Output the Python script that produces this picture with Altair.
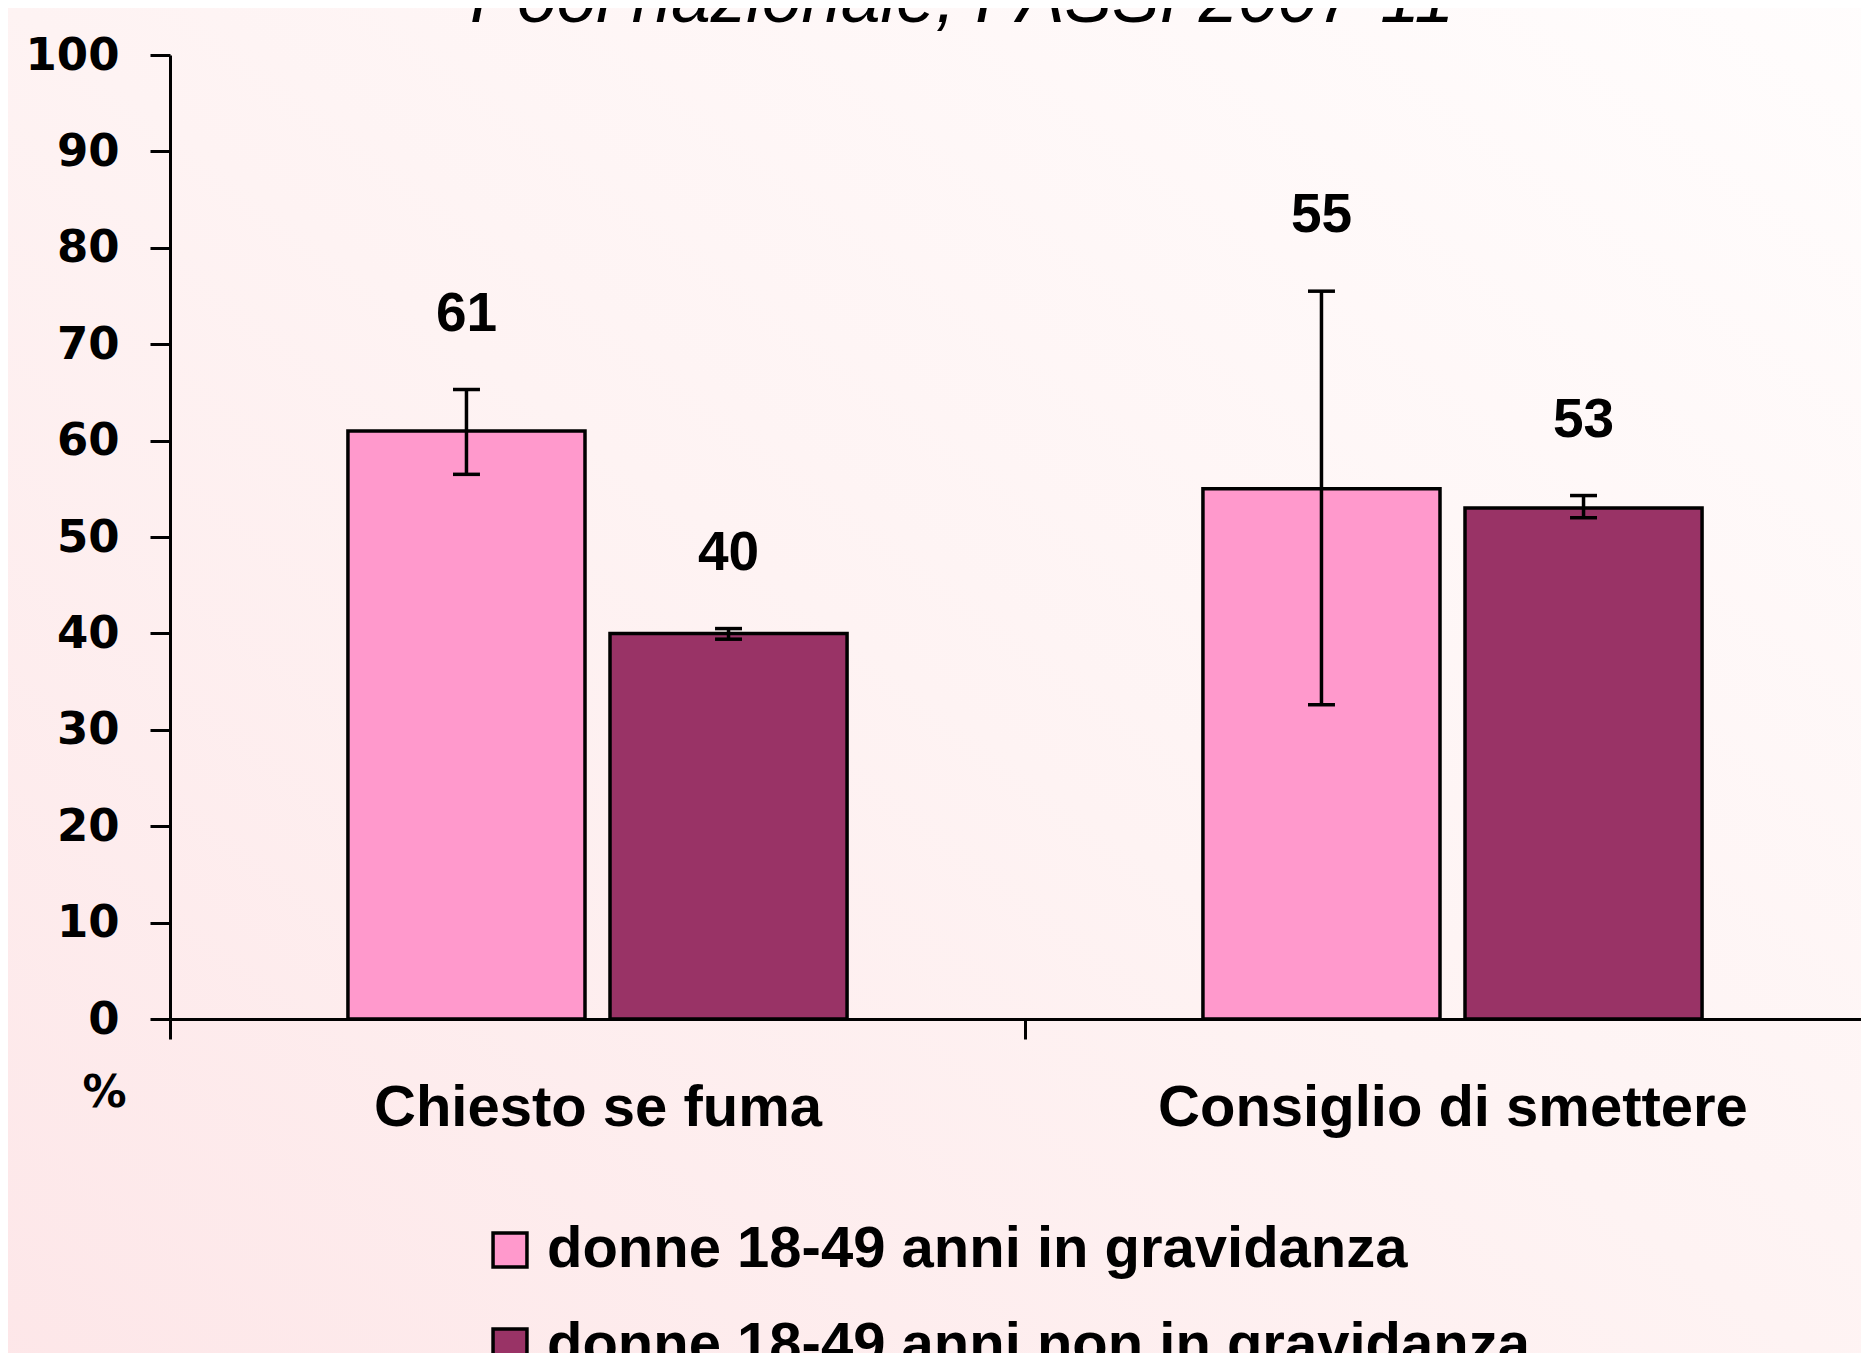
import altair as alt
import pandas as pd

# ---- data ----
categories = ["Chiesto se fuma", "Consiglio di smettere"]
groups = ["donne 18-49 anni in gravidanza", "donne 18-49 anni non in gravidanza"]
values_incinta = [61, 55]
values_non = [40, 53]
low_incinta = [56.5, 32.6]
high_incinta = [65.3, 75.5]
low_non = [39.4, 52.0]
high_non = [40.5, 54.3]
title_text = "Pool nazionale, PASSI 2007-11"
y_ticks = list(range(0, 101, 10))

colors = ["#ff99cc", "#993366"]

rows = []
for i, c in enumerate(categories):
    rows.append({"cat": c, "grp": groups[0], "val": values_incinta[i],
                 "lo": low_incinta[i], "hi": high_incinta[i]})
    rows.append({"cat": c, "grp": groups[1], "val": values_non[i],
                 "lo": low_non[i], "hi": high_non[i]})
df = pd.DataFrame(rows)
df["lab"] = df["val"].astype(int).astype(str)

W = 1710
H = 964

x_enc = alt.X(
    "cat:N",
    sort=categories,
    title=None,
    scale=alt.Scale(paddingInner=0, paddingOuter=0),
    axis=alt.Axis(
        zindex=1,
        domainColor="black", domainWidth=3,
        tickBand="extent", tickSize=20, tickWidth=3, tickColor="black",
        labelAngle=0,
        labelFont="Liberation Sans", labelFontSize=58, labelFontWeight="bold",
        labelColor="black", labelPadding=40, labelLimit=1000,
        grid=False,
    ),
)
xo_enc = alt.XOffset("grp:N", sort=groups,
                     scale=alt.Scale(paddingInner=0.0954, paddingOuter=0.679))

y_scale = alt.Scale(domain=[0, 100], nice=False)
y_axis = alt.Axis(
    zindex=1,
    values=y_ticks,
    domainColor="black", domainWidth=3,
    tickSize=20, tickWidth=3, tickColor="black",
    labelFont="DejaVu Sans", labelFontSize=45, labelFontWeight="bold",
    labelColor="black", labelPadding=31,
    grid=False,
    title="%", titleAngle=0, titleX=-66, titleY=1038,
    titleAlign="center", titleBaseline="middle",
    titleFont="DejaVu Sans", titleFontSize=44, titleFontWeight="bold",
    titleColor="black",
)

base = alt.Chart(df)

bg = alt.Chart(pd.DataFrame({"k": [0]})).mark_rect(
    color=alt.Gradient(
        gradient="linear",
        stops=[alt.GradientStop(color="#fde6e8", offset=0),
               alt.GradientStop(color="#fef3f3", offset=0.5),
               alt.GradientStop(color="#fffdfd", offset=1)],
        x1=0, x2=1, y1=1, y2=0,
    )
).encode(
    x=alt.value(-170), x2=alt.value(W + 20),
    y=alt.value(-60), y2=alt.value(H + 400),
)

bars = base.mark_bar(stroke="black", strokeWidth=3.5).encode(
    x=x_enc,
    xOffset=xo_enc,
    y=alt.Y("val:Q", scale=y_scale, axis=y_axis),
    color=alt.Color(
        "grp:N", sort=groups,
        scale=alt.Scale(domain=groups, range=colors),
        legend=alt.Legend(
            title=None, orient="none", legendX=311, legendY=1166,
            direction="vertical", zindex=1, padding=0,
            symbolType="square", symbolSize=1150,
            symbolStrokeColor="black", symbolStrokeWidth=3.5,
            labelFont="Liberation Sans", labelFontSize=58,
            labelFontWeight="bold", labelColor="black",
            labelLimit=2000, labelOffset=8, rowPadding=38,
        ),
    ),
)

err = base.mark_rule(color="black", strokeWidth=3.5).encode(
    x=alt.X("cat:N", sort=categories),
    xOffset=alt.XOffset("grp:N", sort=groups),
    y=alt.Y("lo:Q", scale=y_scale),
    y2="hi:Q",
)
cap_hi = base.mark_tick(color="black", thickness=3.5, size=27, opacity=1).encode(
    x=alt.X("cat:N", sort=categories),
    xOffset=alt.XOffset("grp:N", sort=groups),
    y=alt.Y("hi:Q", scale=y_scale),
)
cap_lo = base.mark_tick(color="black", thickness=3.5, size=27, opacity=1).encode(
    x=alt.X("cat:N", sort=categories),
    xOffset=alt.XOffset("grp:N", sort=groups),
    y=alt.Y("lo:Q", scale=y_scale),
)
labels = base.mark_text(
    font="Liberation Sans", fontSize=55, fontWeight="bold", color="black",
    baseline="middle", align="center", dy=-76,
).encode(
    x=alt.X("cat:N", sort=categories),
    xOffset=alt.XOffset("grp:N", sort=groups),
    y=alt.Y("hi:Q", scale=y_scale),
    text="lab:N",
)

title = alt.Chart(pd.DataFrame({"t": [title_text]})).mark_text(
    font="Liberation Sans", fontSize=71, fontStyle="italic", color="black",
    align="center", baseline="alphabetic",
).encode(
    x=alt.value(792), y=alt.value(-33), text="t:N",
)

chart = alt.layer(bg, bars, err, cap_hi, cap_lo, labels, title).properties(
    width=W, height=H,
    autosize=alt.AutoSizeParams(type="none"),
    padding={"left": 162, "top": 47, "right": -19, "bottom": 334},
    background="#fef2f2",
).configure_view(strokeWidth=0)

chart.save("out.html", embed_options={"renderer": "svg", "actions": False})
